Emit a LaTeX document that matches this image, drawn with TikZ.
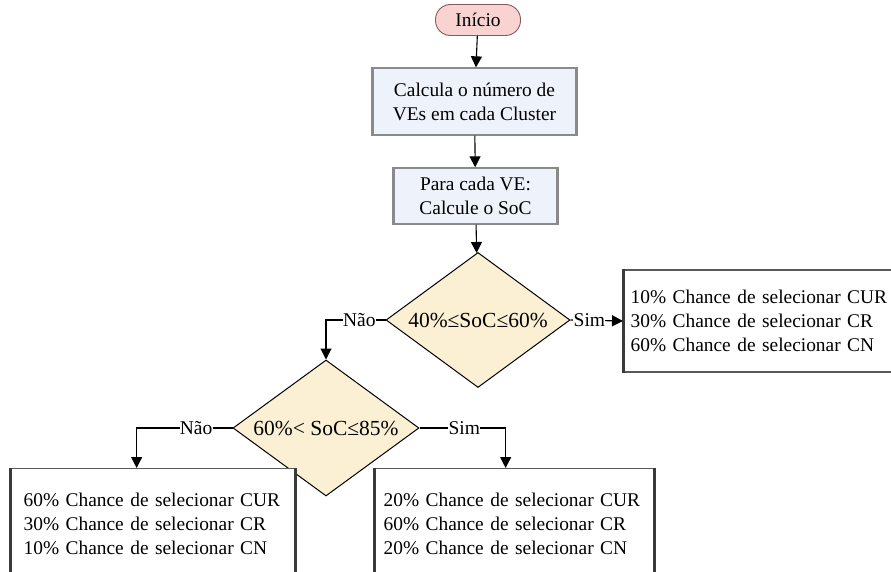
\documentclass[tikz,border=0pt]{standalone}
\usepackage{fontspec}
\setmainfont{Liberation Serif}
\usetikzlibrary{shapes.geometric,arrows.meta,calc}
\definecolor{startfill}{HTML}{F9D2D2}
\definecolor{startdraw}{HTML}{8A5A5A}
\definecolor{procfill}{HTML}{EEF2FA}
\definecolor{decfill}{HTML}{FBF0D3}
\definecolor{sidegray}{HTML}{8A8A8A}
\definecolor{sidedark}{HTML}{3A3A3A}
\begin{document}
\begin{tikzpicture}[x=1pt,y=-1pt,
  every node/.style={font=\fontsize{19.4}{24}\selectfont},
  startbox/.style={draw=startdraw, fill=startfill, rounded corners=15pt, line width=0.9pt, minimum width=85pt, minimum height=31pt, inner sep=0pt},
  procbox/.style={draw=sidegray, fill=procfill, line width=1.3pt, align=center, inner sep=0pt},
  decbox/.style={draw=black, fill=decfill, shape=diamond, line width=1pt, inner sep=0pt, aspect=1.37, font=\fontsize{21.5}{24}\selectfont},
  outbox/.style={draw=black!65, fill=white, line width=1.3pt, align=left, inner sep=0pt, text width=#1},
  arr/.style={-{Triangle[width=11pt,length=11pt]}, line width=1.1pt, draw=black},
  lbl/.style={font=\fontsize{19.5}{20}\selectfont, fill=white, inner sep=0.3pt}
]
\useasboundingbox (0,0) rectangle (891,572);
\clip (0,0) rectangle (891,572);

\node[startbox] (start) at (478,20) {Início};
\node[procbox, minimum width=203pt, minimum height=67pt] (calc) at (474.5,101.5) {Calcula o número de\\VEs em cada Cluster};
\node[procbox, minimum width=163pt, minimum height=56pt] (para) at (475.5,196) {Para cada VE:\\Calcule o SoC};
\node[decbox, minimum width=184pt, minimum height=135pt] (d1) at (478,320) {40\%≤SoC≤60\%};
\node[decbox, minimum width=186pt, minimum height=136pt] (d2) at (326,428) {60\%< SoC≤85\%};

\node[outbox=300pt, minimum height=102pt, anchor=west] (r1) at (623,321) {\hspace*{7pt}10\% Chance de selecionar CUR\\\hspace*{7pt}30\% Chance de selecionar CR\\\hspace*{7pt}60\% Chance de selecionar CN};
\node[outbox=284pt, minimum height=110pt, anchor=north west] (bl) at (10,468) {\hspace*{13pt}60\% Chance de selecionar CUR\\\hspace*{13pt}30\% Chance de selecionar CR\\\hspace*{13pt}10\% Chance de selecionar CN};
\node[outbox=279pt, minimum height=110pt, anchor=north west] (br) at (374,468) {\hspace*{9pt}20\% Chance de selecionar CUR\\\hspace*{9pt}60\% Chance de selecionar CR\\\hspace*{9pt}20\% Chance de selecionar CN};

% thick side borders
\foreach \n/\c in {calc/sidegray, para/sidegray, r1/sidedark, bl/sidedark, br/sidedark}{
  \draw[line width=3pt, \c] (\n.north west) -- (\n.south west);
  \draw[line width=3pt, \c] (\n.north east) -- (\n.south east);
}

\draw[arr] (start) -- (calc);
\draw[arr] (calc) -- (para);
\draw[arr] (para) -- (d1);
\draw[arr] (d1.east) -- node[lbl, pos=0.36] {Sim} (r1.west);
\draw[arr] (d1.west) -| node[lbl, pos=0.22] {Não} (d2.north);
\coordinate (blin) at ([xshift=-16pt]bl.north);
\coordinate (brin) at ([xshift=-8.5pt]br.north);
\draw[arr] (d2.west) -| node[lbl, pos=0.19] {Não} (blin);
\draw[arr] (d2.east) -| node[lbl, pos=0.26] {Sim} (brin);
\end{tikzpicture}
\end{document}
